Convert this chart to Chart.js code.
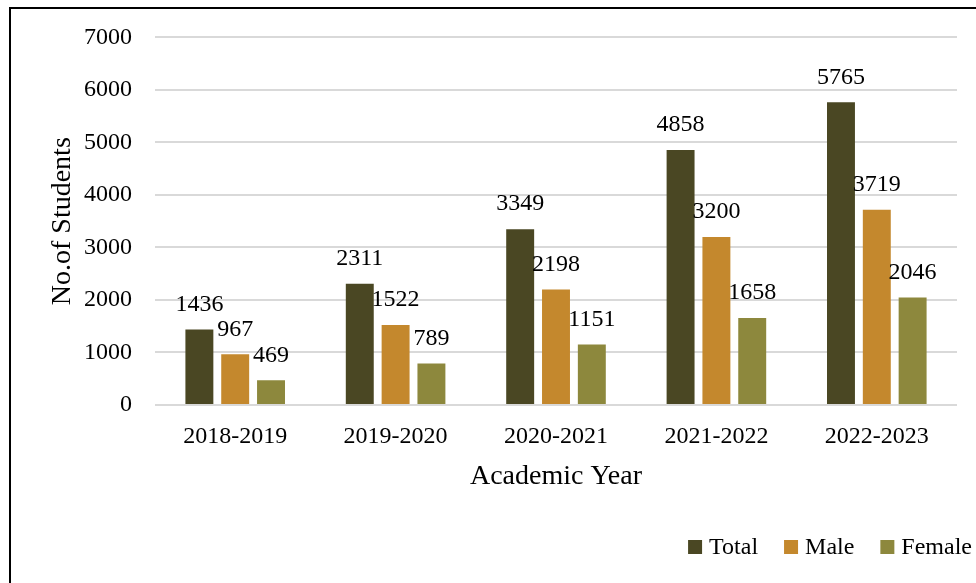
<!DOCTYPE html>
<html>
<head>
<meta charset="utf-8">
<script src="https://cdn.jsdelivr.net/npm/chart.js@4/dist/chart.umd.min.js"></script>
<style>
  html, body { margin: 0; padding: 0; background: #ffffff; }
  canvas { display: block; }
</style>
</head>
<body>
<canvas id="c" width="976" height="583"></canvas>
<script>
const categories = ['2018-2019', '2019-2020', '2020-2021', '2021-2022', '2022-2023'];
const totalValues = [1436, 2311, 3349, 4858, 5765];
const maleValues = [967, 1522, 2198, 3200, 3719];
const femaleValues = [469, 789, 1151, 1658, 2046];
const seriesNames = ['Total', 'Male', 'Female'];
const seriesColors = ['#4a4723', '#c4882d', '#8d883d'];
const yTicks = [0, 1000, 2000, 3000, 4000, 5000, 6000, 7000];

const FONT = "'Liberation Serif', 'Times New Roman', serif";

const framePlugin = {
  id: 'frame',
  beforeDraw(chart) {
    const ctx = chart.ctx;
    ctx.save();
    ctx.fillStyle = '#ffffff';
    ctx.fillRect(0, 0, chart.width, chart.height);
    ctx.strokeStyle = '#000000';
    ctx.lineWidth = 2;
    ctx.strokeRect(10, 8, chart.width + 20, chart.height + 20);
    ctx.restore();
  }
};

const valueLabelPlugin = {
  id: 'valueLabels',
  afterDatasetsDraw(chart) {
    const ctx = chart.ctx;
    ctx.save();
    ctx.font = '24px ' + FONT;
    ctx.fillStyle = '#000000';
    ctx.textAlign = 'center';
    ctx.textBaseline = 'middle';
    chart.data.datasets.forEach((ds, i) => {
      const meta = chart.getDatasetMeta(i);
      meta.data.forEach((bar, j) => {
        ctx.fillText(String(ds.data[j]), bar.x, bar.y - 25);
      });
    });
    ctx.restore();
  }
};

const legendPlugin = {
  id: 'customLegend',
  afterDraw(chart) {
    const ctx = chart.ctx;
    ctx.save();
    ctx.font = '24px ' + FONT;
    ctx.textBaseline = 'alphabetic';
    ctx.textAlign = 'left';
    const box = 14, gapText = 7, gapItem = 26;
    const items = chart.data.datasets.map(ds => ({ label: ds.label, color: ds.backgroundColor, w: ctx.measureText(ds.label).width }));
    let total = 0;
    items.forEach((it, i) => { total += box + gapText + it.w + (i < items.length - 1 ? gapItem : 0); });
    let x = 972 - total;
    items.forEach(it => {
      ctx.fillStyle = it.color;
      ctx.fillRect(x, 540, box, box);
      ctx.fillStyle = '#000000';
      ctx.fillText(it.label, x + box + gapText, 554);
      x += box + gapText + it.w + gapItem;
    });
    ctx.restore();
  }
};

new Chart(document.getElementById('c'), {
  type: 'bar',
  data: {
    labels: categories,
    datasets: [
      { label: seriesNames[0], data: totalValues, backgroundColor: seriesColors[0] },
      { label: seriesNames[1], data: maleValues, backgroundColor: seriesColors[1] },
      { label: seriesNames[2], data: femaleValues, backgroundColor: seriesColors[2] }
    ]
  },
  options: {
    responsive: false,
    animation: false,
    devicePixelRatio: 1,
    layout: { padding: { left: 0, top: 37, right: 19, bottom: 0 } },
    datasets: { bar: { categoryPercentage: 0.67, barPercentage: 0.78 } },
    plugins: {
      legend: { display: false },
      tooltip: { enabled: false }
    },
    scales: {
      x: {
        grid: { display: false, drawTicks: false },
        border: { display: false },
        ticks: { color: '#000000', font: { family: FONT, size: 24 }, padding: 17, maxRotation: 0 },
        title: { display: true, text: 'Academic Year', color: '#000000', font: { family: FONT, size: 28 }, padding: { top: 0, bottom: 90 } },
        afterFit(scale) { scale.height = 178; }
      },
      y: {
        min: 0,
        max: 7000,
        afterBuildTicks(scale) { scale.ticks = yTicks.map(v => ({ value: v })); },
        grid: { color: '#d9d9d9', lineWidth: 2, drawTicks: false },
        border: { display: false },
        ticks: { color: '#000000', font: { family: FONT, size: 24 }, padding: 23, callback: v => String(v) },
        title: { display: true, text: 'No.of Students', color: '#000000', font: { family: FONT, size: 28 }, padding: { top: 46, bottom: 0 } },
        afterFit(scale) { scale.width = 155; }
      }
    }
  },
  plugins: [framePlugin, valueLabelPlugin, legendPlugin]
});
</script>
</body>
</html>
